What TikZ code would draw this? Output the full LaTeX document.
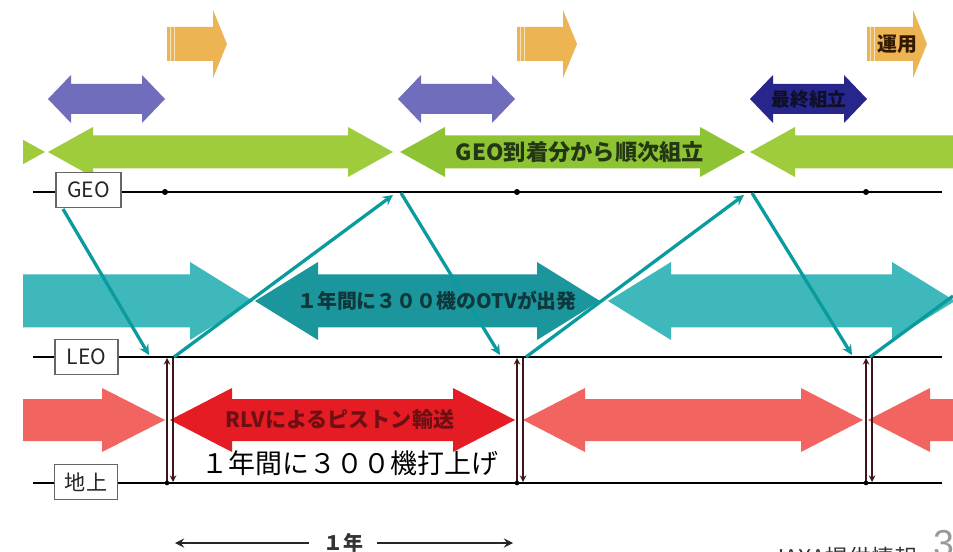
\documentclass[tikz,border=0pt]{standalone}
\usepackage{fontspec}
\setmainfont{Noto Sans CJK JP}
\newfontfamily\numfont{Liberation Sans}
\usetikzlibrary{arrows}
\definecolor{grn}{RGB}{158,204,60}
\definecolor{grnD}{RGB}{142,196,52}
\definecolor{pur}{RGB}{112,110,188}
\definecolor{navy}{RGB}{38,38,140}
\definecolor{orng}{RGB}{236,180,82}
\definecolor{tealL}{RGB}{62,184,186}
\definecolor{tealD}{RGB}{26,150,156}
\definecolor{tealLn}{RGB}{10,155,158}
\definecolor{redL}{RGB}{242,100,95}
\definecolor{redD}{RGB}{230,28,36}
\definecolor{brn}{RGB}{60,20,25}
\newcommand{\dbarrow}[7]{\fill[#1] (#2,#4) -- (#2+#7,#4-#6) -- (#2+#7,#4-#5) -- (#3-#7,#4-#5) -- (#3-#7,#4-#6) -- (#3,#4) -- (#3-#7,#4+#6) -- (#3-#7,#4+#5) -- (#2+#7,#4+#5) -- (#2+#7,#4+#6) -- cycle;}
\newcommand{\rtarrow}[7]{\fill[#1] (#2,#4-#5) -- (#3-#7,#4-#5) -- (#3-#7,#4-#6) -- (#3,#4) -- (#3-#7,#4+#6) -- (#3-#7,#4+#5) -- (#2,#4+#5) -- cycle;}
\begin{document}
\begin{tikzpicture}[x=0.3mm, y=-0.3mm,
	lvl/.style={draw=black!60, fill=white, line width=0.9pt, minimum width=19.5mm, minimum height=10.6mm, inner sep=0pt, text=black!85, font=\fontsize{18}{18}\selectfont},
	timeline/.style={line width=2pt, black},
	orbit/.style={->, >=stealth, tealLn, line width=2.8pt},
	shuttle/.style={->, >=stealth, brn, line width=1.5pt},
	dot/.style={circle, fill=black, inner sep=0pt, minimum size=1.8mm},
	stripe/.style={white, opacity=0.6, line width=0.8pt}]
	\fill[white] (0,0) rectangle (953,552);
	\useasboundingbox (0,0) rectangle (953,552);
	\begin{scope}
		\clip (23,0) rectangle (953,552);
		\rtarrow{orng}{167}{227}{44}{17}{34}{14}
		\rtarrow{orng}{517}{577}{44}{17}{34}{14}
		\rtarrow{orng}{867}{927}{44}{17}{34}{14}
		\dbarrow{pur}{48}{165}{99}{15}{24}{23}
		\dbarrow{pur}{398}{515}{99}{15}{24}{23}
		\dbarrow{navy}{750}{867}{99}{15}{24}{23}
		\rtarrow{grn}{-20}{45}{152}{16.5}{25}{45}
		\dbarrow{grn}{48}{393}{152}{16.5}{25}{45}
		\dbarrow{grnD}{400}{745}{152}{16.5}{25}{45}
		\dbarrow{grn}{750}{1100}{152}{16.5}{25}{45}
		\rtarrow{tealL}{-20}{253}{301}{26.5}{39}{63}
		\dbarrow{tealD}{255}{600}{301}{26.5}{39}{63}
		\dbarrow{tealL}{608}{955}{301}{26.5}{39}{63}
		\rtarrow{redL}{-20}{165}{420}{21}{32}{63}
		\dbarrow{redD}{170}{515}{420}{21}{32}{62}
		\dbarrow{redL}{523}{863}{420}{21}{32}{62}
		\dbarrow{redL}{868}{1250}{420}{21}{32}{62}
	\end{scope}
	\draw[stripe] (170,27) -- (170,61) (174,27) -- (174,61);
	\draw[stripe] (520,27) -- (520,61) (524,27) -- (524,61);
	\draw[stripe] (870,27) -- (870,61) (874,27) -- (874,61);
	\coordinate (geoL) at (33,192);
	\coordinate (geoR) at (942,192);
	\coordinate (leoL) at (33,357);
	\coordinate (leoR) at (942,357);
	\coordinate (gndL) at (33,483);
	\coordinate (gndR) at (942,483);
	\draw[timeline] (geoL) -- (geoR);
	\draw[timeline] (leoL) -- (leoR);
	\draw[timeline] (gndL) -- (gndR);
	\node[lvl] (geo)at(88.5,190) {GEO};
	\node[lvl, minimum width=18.9mm] (leo)at(86.5,357) {LEO};
	\node[lvl, minimum width=18.9mm] (gnd)at(86,482) {地上};
	\node[dot] (gd1)at(165,192) {};
	\node[dot] (gd2)at(517,192) {};
	\node[dot] (gd3)at(866,192) {};
	\coordinate (ta0) at (63,209);
	\coordinate (ta1) at (149,355);
	\coordinate (tb0) at (174,357);
	\coordinate (tb1) at (393,195);
	\coordinate (tc0) at (401,193);
	\coordinate (tc1) at (500,355);
	\coordinate (td0) at (526,357);
	\coordinate (td1) at (744,195);
	\coordinate (te0) at (752,193);
	\coordinate (te1) at (852,355);
	\coordinate (tf0) at (870,357);
	\coordinate (tf1) at (953,296);
	\draw[orbit] (ta0) -- (ta1);
	\draw[orbit] (tb0) -- (tb1);
	\draw[orbit] (tc0) -- (tc1);
	\draw[orbit] (td0) -- (td1);
	\draw[orbit] (te0) -- (te1);
	\draw[orbit, -] (tf0) -- (tf1);
	\coordinate (up1b) at (167,483);
	\coordinate (up1t) at (167,358);
	\coordinate (dn1t) at (173,358);
	\coordinate (dn1b) at (173,482);
	\coordinate (up2b) at (517,483);
	\coordinate (up2t) at (517,358);
	\coordinate (dn2t) at (523,358);
	\coordinate (dn2b) at (523,482);
	\coordinate (up3b) at (866,483);
	\coordinate (up3t) at (866,358);
	\coordinate (dn3t) at (872,358);
	\coordinate (dn3b) at (872,482);
	\draw[shuttle] (up1b) -- (up1t);
	\draw[shuttle] (dn1t) -- (dn1b);
	\draw[shuttle] (up2b) -- (up2t);
	\draw[shuttle] (dn2t) -- (dn2b);
	\draw[shuttle] (up3b) -- (up3t);
	\draw[shuttle] (dn3t) -- (dn3b);
	\node[dot, minimum size=1.4mm] (gp1)at(167,483) {};
	\node[dot, minimum size=1.4mm] (gp2)at(517,483) {};
	\node[dot, minimum size=1.4mm] (gp3)at(866,483) {};
	\node[text={rgb,255:red,35;green,55;blue,20}, font=\fontsize{19}{19}\selectfont\bfseries] (geotx)at(580,152) {GEO到着分から順次組立};
	\node[text={rgb,255:red,15;green,55;blue,60}, font=\fontsize{17}{17}\selectfont\bfseries] (otvtx)at(437,301) {１年間に３００機のOTVが出発};
	\node[text={rgb,255:red,110;green,15;blue,20}, font=\fontsize{18}{18}\selectfont\bfseries] (rlvtx)at(340,419) {RLVによるピストン輸送};
	\node[text={rgb,255:red,15;green,15;blue,40}, font=\fontsize{16}{16}\selectfont\bfseries] (lasttx)at(809,99) {最終組立};
	\node[text={rgb,255:red,50;green,25;blue,0}, font=\fontsize{17}{17}\selectfont\bfseries] (optx)at(897,44) {運用};
	\node[font=\fontsize{23}{23}\selectfont] (launch)at(350,463) {１年間に３００機打上げ};
	\node[text=black!80, font=\fontsize{17}{17}\selectfont\bfseries, inner sep=12pt] (year)at(343,543) {１年};
	\coordinate (yrL) at (175,543);
	\coordinate (yrR) at (513,543);
	\draw[->, >=stealth, line width=2.4pt, black!85] (year) -- (yrL);
	\draw[->, >=stealth, line width=2.4pt, black!85] (year) -- (yrR);
	\node[anchor=base west, text=black!80, font=\fontsize{19.6}{19.6}\selectfont, inner sep=0pt] (src)at(772,566) {JAXA提供情報};
	\node[anchor=base west, text=black!40, font=\numfont\fontsize{32}{32}\selectfont, inner sep=0pt] (page)at(933,556) {38};
\end{tikzpicture}
\end{document}
